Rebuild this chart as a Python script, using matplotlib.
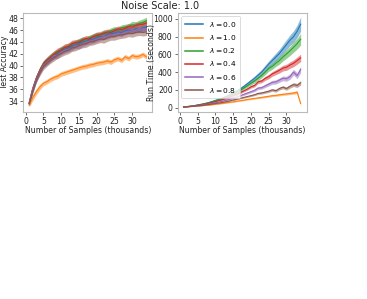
import matplotlib
matplotlib.use("Agg")
import matplotlib.pyplot as plt
import numpy as np

samples = list(range(1, 35))
labels = [r"$\lambda = 0.0$", r"$\lambda = 1.0$", r"$\lambda = 0.2$",
          r"$\lambda = 0.4$", r"$\lambda = 0.6$", r"$\lambda = 0.8$"]
colors = ["#1f77b4", "#ff7f0e", "#2ca02c", "#d62728", "#9467bd", "#8c564b"]

acc_l00 = [33.7, 35.9, 37.7, 39.1, 40.2, 40.7, 41.3, 41.6, 42.1, 42.5, 42.8, 43.0, 43.3, 43.5, 43.8, 44.0, 44.1,
           44.5, 44.4, 44.8, 45.0, 44.9, 45.3, 45.4, 45.5, 45.7, 45.6, 45.9, 46.0, 45.9, 46.2, 46.1, 46.4, 46.5]
acc_l10 = [33.3, 34.6, 35.6, 36.4, 37.0, 37.3, 37.7, 38.0, 38.2, 38.6, 38.8, 39.0, 39.2, 39.4, 39.6, 39.8, 39.9,
           40.1, 40.2, 40.4, 40.5, 40.6, 40.8, 40.6, 41.0, 41.2, 40.9, 41.5, 41.2, 41.7, 41.5, 41.6, 41.9, 41.5]
acc_l02 = [33.6, 36.0, 37.9, 39.3, 40.4, 40.9, 41.5, 42.0, 42.3, 42.8, 43.0, 43.3, 43.6, 43.8, 44.1, 44.4, 44.3,
           44.7, 44.9, 45.2, 45.1, 45.6, 45.5, 45.9, 46.1, 46.0, 46.4, 46.5, 46.6, 46.9, 46.8, 47.1, 47.3, 47.6]
acc_l04 = [33.6, 36.1, 37.9, 39.2, 40.3, 41.0, 41.4, 41.9, 42.4, 42.6, 43.1, 43.2, 43.7, 43.9, 44.0, 44.3, 44.6,
           44.5, 44.9, 45.1, 45.3, 45.4, 45.7, 45.6, 45.9, 46.2, 46.1, 46.3, 46.6, 46.5, 46.8, 46.9, 47.0, 47.2]
acc_l06 = [33.8, 36.2, 37.8, 39.0, 40.1, 40.6, 41.1, 41.7, 41.8, 42.3, 42.6, 42.8, 43.0, 43.4, 43.3, 43.7, 44.0,
           44.1, 44.3, 44.5, 44.7, 44.9, 45.0, 45.2, 45.3, 45.5, 45.4, 45.7, 45.8, 45.9, 46.0, 46.1, 46.2, 46.3]
acc_l08 = [33.5, 35.8, 37.6, 38.9, 39.9, 40.5, 41.0, 41.4, 41.8, 42.1, 42.4, 42.6, 43.0, 43.1, 43.4, 43.6, 43.7,
           44.0, 44.1, 44.3, 44.5, 44.4, 44.7, 44.9, 44.9, 45.1, 45.2, 45.3, 45.5, 45.4, 45.6, 45.7, 45.6, 45.7]

acc_sd_l00 = [0.3, 0.5, 0.5, 0.5, 0.5, 0.5, 0.5, 0.5, 0.5, 0.5, 0.5, 0.5, 0.5, 0.5, 0.5, 0.5, 0.5,
              0.5, 0.5, 0.5, 0.5, 0.5, 0.5, 0.5, 0.5, 0.5, 0.5, 0.5, 0.5, 0.5, 0.5, 0.5, 0.5, 0.5]
acc_sd_l10 = [0.3, 0.5, 0.5, 0.5, 0.4, 0.4, 0.4, 0.4, 0.4, 0.4, 0.4, 0.4, 0.4, 0.4, 0.4, 0.4, 0.4,
              0.4, 0.4, 0.4, 0.4, 0.4, 0.4, 0.4, 0.4, 0.4, 0.4, 0.4, 0.4, 0.4, 0.4, 0.4, 0.4, 0.4]
acc_sd_l02 = [0.3, 0.5, 0.5, 0.5, 0.5, 0.5, 0.5, 0.5, 0.5, 0.5, 0.5, 0.5, 0.5, 0.5, 0.5, 0.5, 0.5,
              0.5, 0.5, 0.5, 0.5, 0.5, 0.5, 0.5, 0.5, 0.5, 0.5, 0.5, 0.5, 0.6, 0.6, 0.6, 0.6, 0.6]
acc_sd_l04 = [0.3, 0.5, 0.5, 0.5, 0.5, 0.5, 0.6, 0.6, 0.6, 0.6, 0.6, 0.6, 0.6, 0.5, 0.5, 0.5, 0.5,
              0.5, 0.5, 0.5, 0.5, 0.5, 0.5, 0.5, 0.5, 0.5, 0.5, 0.5, 0.5, 0.5, 0.5, 0.5, 0.5, 0.5]
acc_sd_l06 = [0.3, 0.5, 0.5, 0.5, 0.5, 0.5, 0.5, 0.5, 0.6, 0.5, 0.5, 0.5, 0.5, 0.5, 0.5, 0.5, 0.5,
              0.5, 0.5, 0.5, 0.5, 0.5, 0.5, 0.5, 0.5, 0.5, 0.5, 0.5, 0.5, 0.5, 0.5, 0.5, 0.5, 0.5]
acc_sd_l08 = [0.3, 0.5, 0.5, 0.6, 0.6, 0.6, 0.6, 0.6, 0.6, 0.6, 0.6, 0.6, 0.6, 0.6, 0.6, 0.6, 0.6,
              0.6, 0.6, 0.6, 0.6, 0.6, 0.6, 0.6, 0.6, 0.6, 0.6, 0.6, 0.6, 0.6, 0.6, 0.6, 0.6, 0.6]

rt_l00 = [8, 12, 16, 22, 30, 38, 46, 56, 68, 82, 96, 110, 126, 145, 165, 185, 210,
          240, 270, 300, 330, 365, 400, 445, 490, 530, 570, 610, 660, 710, 760, 800, 860, 940]
rt_l10 = [7, 9, 12, 15, 18, 21, 25, 29, 33, 38, 43, 48, 54, 60, 65, 72, 78,
          85, 92, 98, 104, 110, 115, 122, 128, 135, 138, 145, 150, 155, 160, 165, 175, 45]
rt_l02 = [8, 12, 16, 22, 29, 36, 44, 54, 65, 78, 90, 104, 118, 135, 155, 172, 195,
          222, 248, 275, 300, 330, 362, 400, 440, 465, 500, 530, 570, 605, 640, 680, 720, 770]
rt_l04 = [8, 11, 15, 20, 26, 32, 40, 48, 57, 68, 78, 90, 102, 118, 135, 150, 170,
          190, 210, 235, 250, 290, 300, 330, 350, 380, 400, 420, 445, 455, 480, 500, 530, 560]
rt_l06 = [7, 10, 14, 18, 23, 28, 34, 40, 47, 55, 63, 72, 82, 95, 110, 120, 135,
          150, 165, 180, 195, 220, 225, 245, 265, 285, 290, 310, 330, 325, 350, 400, 360, 430]
rt_l08 = [7, 10, 13, 16, 20, 24, 29, 34, 40, 46, 52, 59, 66, 76, 86, 95, 105,
          115, 125, 135, 145, 160, 165, 175, 185, 200, 190, 215, 230, 215, 240, 260, 250, 280]

rt_sd_l00 = [1, 1, 2, 2, 3, 3, 4, 4, 5, 6, 7, 8, 9, 10, 12, 14, 16,
             18, 20, 22, 25, 28, 30, 33, 36, 40, 44, 48, 52, 56, 60, 65, 70, 80]
rt_sd_l10 = [1, 1, 1, 1, 2, 2, 2, 3, 3, 3, 4, 4, 4, 5, 5, 6, 6,
             7, 7, 8, 8, 9, 9, 10, 10, 11, 11, 12, 12, 13, 13, 14, 15, 5]
rt_sd_l02 = [1, 1, 2, 2, 3, 3, 4, 4, 5, 6, 7, 8, 9, 10, 11, 12, 14,
             16, 18, 20, 22, 24, 26, 28, 30, 33, 36, 40, 44, 48, 52, 56, 60, 65]
rt_sd_l04 = [1, 1, 1, 2, 2, 3, 3, 4, 4, 5, 5, 6, 7, 8, 9, 10, 11,
             12, 13, 15, 16, 18, 20, 22, 24, 26, 28, 30, 32, 34, 36, 38, 40, 42]
rt_sd_l06 = [1, 1, 1, 2, 2, 2, 3, 3, 4, 4, 5, 5, 6, 7, 8, 9, 10,
             11, 12, 13, 14, 16, 17, 18, 20, 22, 23, 25, 27, 28, 30, 32, 33, 35]
rt_sd_l08 = [1, 1, 1, 1, 2, 2, 2, 3, 3, 3, 4, 4, 5, 5, 6, 7, 7,
             8, 9, 10, 10, 11, 12, 13, 14, 15, 16, 17, 18, 19, 20, 22, 23, 25]

acc_means = [acc_l00, acc_l10, acc_l02, acc_l04, acc_l06, acc_l08]
acc_sds = [acc_sd_l00, acc_sd_l10, acc_sd_l02, acc_sd_l04, acc_sd_l06, acc_sd_l08]
rt_means = [rt_l00, rt_l10, rt_l02, rt_l04, rt_l06, rt_l08]
rt_sds = [rt_sd_l00, rt_sd_l10, rt_sd_l02, rt_sd_l04, rt_sd_l06, rt_sd_l08]

W, H = 367, 299
fig = plt.figure(figsize=(W / 100, H / 100), dpi=100)

def px_axes(x0, y0, x1, y1):
    return fig.add_axes([x0 / W, 1 - y1 / H, (x1 - x0) / W, (y1 - y0) / H])

ax1 = px_axes(23.3, 12.6, 152.3, 111.6)
ax2 = px_axes(177.7, 12.6, 306.5, 111.6)

FS = 5.6
x = np.array(samples)
for ax, means, sds in [(ax1, acc_means, acc_sds), (ax2, rt_means, rt_sds)]:
    for m, s, c, lab in zip(means, sds, colors, labels):
        m = np.array(m, dtype=float)
        s = np.array(s, dtype=float)
        ax.fill_between(x, m - s, m + s, color=c, alpha=0.5, linewidth=0)
        ax.plot(x, m, color=c, linewidth=0.8, label=lab)
    for sp in ax.spines.values():
        sp.set_color("#bbbbbb")
        sp.set_linewidth(0.8)
    ax.tick_params(labelsize=FS, length=2.5, width=0.6, color="#555555", pad=1.2, labelcolor="#222222")
    ax.set_xticks([0, 5, 10, 15, 20, 25, 30])
    ax.set_xlabel("Number of Samples (thousands)", fontsize=FS, labelpad=0.5, color="#222222")

ax1.set_yticks([34, 36, 38, 40, 42, 44, 46, 48])
ax1.set_ylabel("Test Accuracy", fontsize=FS, color="#222222")
ax1.yaxis.set_label_coords(-0.112, 0.5)
ax2.set_yticks([0, 200, 400, 600, 800, 1000])
ax2.set_ylabel("Run Time (seconds)", fontsize=FS, color="#222222")
ax2.yaxis.set_label_coords(-0.165, 0.5)

leg = ax2.legend(loc="upper left", fontsize=5.4, frameon=True, handlelength=2.4,
                 labelspacing=0.55, borderpad=0.5, handletextpad=0.8)
leg.get_frame().set_edgecolor("#cccccc")
leg.get_frame().set_linewidth(0.6)
for h in leg.get_lines():
    h.set_linewidth(1.1)

fig.text(160 / W, 1 - 6 / H, "Noise Scale: 1.0", ha="center", va="center", fontsize=7, color="#222222")

fig.savefig("out.png", dpi=100)
